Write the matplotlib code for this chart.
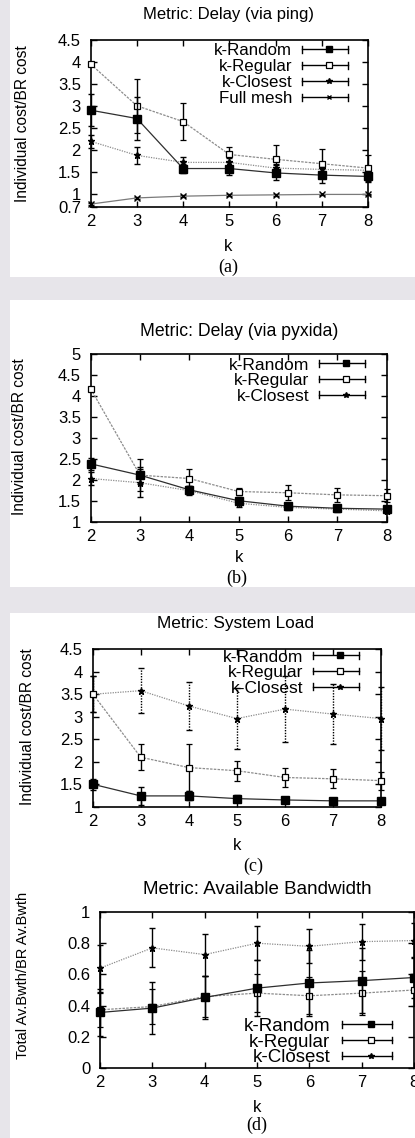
import matplotlib
matplotlib.use('Agg')
import matplotlib.pyplot as plt
from matplotlib.lines import Line2D
from matplotlib.legend_handler import HandlerBase
from matplotlib.patches import Rectangle

W, H, DPI = 415, 1138, 100
plt.rcParams['font.family'] = ['Liberation Sans', 'DejaVu Sans']

# ---------------- data ----------------
K = [2, 3, 4, 5, 6, 7, 8]
LBL_RANDOM, LBL_REGULAR, LBL_CLOSEST, LBL_FULL = 'k-Random', 'k-Regular', 'k-Closest', 'Full mesh'

# (a) Delay via ping
ping_random = [2.90, 2.71, 1.57, 1.57, 1.47, 1.42, 1.39]
ping_random_err = [0.36, 0.49, 0.10, 0.15, 0.17, 0.18, 0.12]
ping_regular = [3.95, 3.00, 2.64, 1.89, 1.78, 1.68, 1.58]
ping_regular_err = [0.05, 0.61, 0.42, 0.17, 0.32, 0.33, 0.30]
ping_closest = [2.19, 1.87, 1.71, 1.71, 1.58, 1.55, 1.53]
ping_closest_err = [0.15, 0.20, 0.12, 0.10, 0.10, 0.10, 0.10]
ping_full = [0.76, 0.90, 0.94, 0.96, 0.97, 0.98, 0.98]
ping_full_err = [0.02, 0.02, 0.02, 0.02, 0.02, 0.02, 0.02]

# (b) Delay via pyxida
pyx_random = [2.38, 2.11, 1.76, 1.50, 1.37, 1.32, 1.30]
pyx_random_err = [0.15, 0.20, 0.10, 0.08, 0.06, 0.06, 0.06]
pyx_regular = [4.17, 2.11, 2.03, 1.72, 1.69, 1.64, 1.62]
pyx_regular_err = [0.05, 0.38, 0.22, 0.08, 0.18, 0.16, 0.15]
pyx_closest = [2.03, 1.93, 1.74, 1.44, 1.34, 1.30, 1.26]
pyx_closest_err = [0.15, 0.33, 0.10, 0.08, 0.07, 0.06, 0.06]

# (c) System load
load_random = [1.50, 1.24, 1.24, 1.18, 1.15, 1.13, 1.13]
load_random_err = [0.12, 0.20, 0.10, 0.07, 0.06, 0.05, 0.05]
load_regular = [3.51, 2.10, 1.87, 1.80, 1.65, 1.62, 1.58]
load_regular_err = [0.40, 0.29, 0.52, 0.22, 0.22, 0.21, 0.20]
load_closest = [3.50, 3.58, 3.24, 2.96, 3.17, 3.06, 2.96]
load_closest_err = [0.40, 0.50, 0.53, 0.68, 0.73, 0.66, 0.70]

# (d) Available bandwidth
bw_random = [0.356, 0.384, 0.452, 0.512, 0.545, 0.56, 0.58]
bw_random_err = [0.15, 0.165, 0.14, 0.18, 0.21, 0.21, 0.13]
bw_regular = [0.373, 0.394, 0.458, 0.48, 0.463, 0.48, 0.50]
bw_regular_err = [0.11, 0.11, 0.13, 0.12, 0.12, 0.14, 0.10]
bw_closest = [0.64, 0.77, 0.727, 0.80, 0.78, 0.81, 0.817]
bw_closest_err = [0.15, 0.125, 0.135, 0.11, 0.11, 0.115, 0.11]

TITLES = ['Metric: Delay (via ping)', 'Metric: Delay (via pyxida)',
          'Metric: System Load', 'Metric: Available Bandwidth']
YLABELS = ['Individual cost/BR cost', 'Individual cost/BR cost',
           'Individual cost/BR cost', 'Total Av.Bwth/BR Av.Bwth']
PANEL_TAGS = ['(a)', '(b)', '(c)', '(d)']

# ---------------- styles ----------------
STY = {
    'random': dict(color='#2e2e2e', ls='-', lw=0.9, marker='s', ms=5.5, mfc='black', mec='black'),
    'regular': dict(color='#8c8c8c', ls=(0, (2, 1)), lw=0.9, marker='s', ms=4.8, mfc='white', mec='black', mew=0.9),
    'closest': dict(color='#8c8c8c', ls=(0, (1, 1)), lw=0.9, marker='*', ms=5.0, mfc='black', mec='black'),
    'full': dict(color='#7a7a7a', ls='-', lw=0.9, marker='x', ms=4, mfc='black', mec='black', mew=1.0),
}


class GnuKey(HandlerBase):
    def create_artists(self, legend, orig_handle, xdescent, ydescent,
                       width, height, fontsize, trans):
        y = height / 2 - ydescent
        x0, x1 = -xdescent, width - xdescent
        c = 2.4
        arts = [Line2D([x0, x1], [y, y], color='black', lw=1.0),
                Line2D([x0, x0], [y - c, y + c], color='black', lw=1.0),
                Line2D([x1, x1], [y - c, y + c], color='black', lw=1.0),
                Line2D([(x0 + x1) * 0.58], [y], ls='none',
                       marker=orig_handle.get_marker(), ms=orig_handle.get_markersize(),
                       mfc=orig_handle.get_markerfacecolor(), mec='black',
                       mew=orig_handle.get_markeredgewidth())]
        for a in arts:
            a.set_transform(trans)
        return arts


fig = plt.figure(figsize=(W / DPI, H / DPI), dpi=DPI, facecolor='#e7e5ea')

for (y0, y1) in [(0, 277), (300, 587), (613, 870), (870, 1138)]:
    fig.add_artist(Rectangle((10 / W, 1 - y1 / H), 405 / W, (y1 - y0) / H,
                             transform=fig.transFigure, facecolor='white',
                             edgecolor='none', zorder=-5))


def px_axes(l, r, t, b):
    return fig.add_axes([l / W, 1 - b / H, (r - l) / W, (b - t) / H])


def series(ax, vals, err, key, elw=1.0, els='-', z=3):
    st = STY[key]
    cont = ax.errorbar(K, vals, yerr=err, color=st['color'], ls=st['ls'], lw=st['lw'],
                       marker=st['marker'], ms=st['ms'], mfc=st['mfc'], mec=st['mec'],
                       mew=st.get('mew', 1.0), ecolor='black', elinewidth=elw,
                       capsize=2.5, capthick=elw, zorder=z)
    line, caps, bars = cont.lines
    line.set_clip_on(False)
    for c in caps:
        c.set_clip_on(False)
    for b in bars:
        b.set_clip_on(False)
        b.set_linestyle(els)
    return Line2D([], [], ls='none', marker=st['marker'], ms=st['ms'] * 0.85,
                  mfc=st['mfc'], mec='black', mew=st.get('mew', 1.0))


def style_axes(ax, yticks, ylim, ylabels=None):
    ax.set_xlim(2, 8)
    ax.set_ylim(*ylim)
    ax.set_xticks(K)
    ax.set_yticks(yticks)
    ax.set_yticklabels(ylabels if ylabels else ['%g' % v for v in yticks])
    ax.tick_params(direction='in', top=True, right=True, length=4, width=1.0,
                   labelsize=12)
    ax.tick_params(axis='x', pad=5)
    ax.tick_params(axis='y', pad=7)
    for s in ax.spines.values():
        s.set_linewidth(1.2)


def legend(ax, handles, labels, fs, right_px, row_px, loc, pitch_px, samp_px=46, gap_px=10):
    em = fs * DPI / 72.0
    box = 0.88 * em
    if loc == 'upper right':
        ay = row_px - box / 2
    else:
        ay = row_px + box / 2
    leg = ax.legend(handles, labels, loc=loc,
                    bbox_to_anchor=(right_px / W, 1 - ay / H),
                    bbox_transform=fig.transFigure, frameon=False, markerfirst=False,
                    fontsize=fs, handlelength=samp_px / em, handletextpad=gap_px / em,
                    labelspacing=(pitch_px - box) / em, borderpad=0, borderaxespad=0,
                    handler_map={Line2D: GnuKey()})
    leg.set_zorder(10)
    return leg


def texts(title, tfs, tpos, ylab, yfs, ypos, kpos, tag, tagpos):
    fig.text(tpos[0] / W, 1 - tpos[1] / H, title, ha='center', va='center', fontsize=tfs)
    fig.text(ypos[0] / W, 1 - ypos[1] / H, ylab, ha='center', va='center',
             rotation=90, fontsize=yfs)
    fig.text(kpos[0] / W, 1 - kpos[1] / H, 'k', ha='center', va='center', fontsize=12)
    fig.text(tagpos[0] / W, 1 - tagpos[1] / H, tag, ha='center', va='center',
             fontsize=13, family='Liberation Serif')


# ---------------- (a) ----------------
ax = px_axes(90.7, 368, 40, 206.7)
h1 = series(ax, ping_random, ping_random_err, 'random', z=5)
h2 = series(ax, ping_regular, ping_regular_err, 'regular', z=4)
h3 = series(ax, ping_closest, ping_closest_err, 'closest', z=3)
h4 = series(ax, ping_full, ping_full_err, 'full', z=3)
style_axes(ax, [0.7, 1, 1.5, 2, 2.5, 3, 3.5, 4, 4.5], (0.7, 4.5))
legend(ax, [h1, h2, h3, h4], [LBL_RANDOM, LBL_REGULAR, LBL_CLOSEST, LBL_FULL],
       12.2, 348, 50.7, 'upper right', 15.9)
texts(TITLES[0], 12, (228.5, 15), YLABELS[0], 11.2, (23, 124), (228.5, 247),
      PANEL_TAGS[0], (228.5, 267))

# ---------------- (b) ----------------
ax = px_axes(90.7, 386.7, 354, 521.7)
h1 = series(ax, pyx_random, pyx_random_err, 'random', z=5)
h2 = series(ax, pyx_regular, pyx_regular_err, 'regular', z=4)
h3 = series(ax, pyx_closest, pyx_closest_err, 'closest', z=3)
style_axes(ax, [1, 1.5, 2, 2.5, 3, 3.5, 4, 4.5, 5], (1, 5))
legend(ax, [h1, h2, h3], [LBL_RANDOM, LBL_REGULAR, LBL_CLOSEST],
       12.6, 365, 365, 'upper right', 15.8)
texts(TITLES[1], 12.7, (239, 331.7), YLABELS[1], 11.2, (20, 437), (239, 558),
      PANEL_TAGS[1], (237, 578))

# ---------------- (c) ----------------
ax = px_axes(92.7, 381, 649.3, 806.7)
h1 = series(ax, load_random, load_random_err, 'random', z=5)
h2 = series(ax, load_regular, load_regular_err, 'regular', z=4)
h3 = series(ax, load_closest, load_closest_err, 'closest', els=(0, (1, 1)), z=3)
style_axes(ax, [1, 1.5, 2, 2.5, 3, 3.5, 4, 4.5], (1, 4.5))
legend(ax, [h1, h2, h3], [LBL_RANDOM, LBL_REGULAR, LBL_CLOSEST],
       12.5, 359, 657, 'upper right', 15.7)
texts(TITLES[2], 12.4, (235, 623.3), YLABELS[2], 11.2, (27, 727), (236.7, 845),
      PANEL_TAGS[2], (253, 866.7))

# ---------------- (d) ----------------
ax = px_axes(100, 414, 912, 1068)
h1 = series(ax, bw_random, bw_random_err, 'random', z=5)
h2 = series(ax, bw_regular, bw_regular_err, 'regular', z=4)
h3 = series(ax, bw_closest, bw_closest_err, 'closest', z=3)
style_axes(ax, [0, 0.2, 0.4, 0.6, 0.8, 1], (0, 1))
legend(ax, [h1, h2, h3], [LBL_RANDOM, LBL_REGULAR, LBL_CLOSEST],
       13.5, 392, 1058, 'lower right', 15.0, samp_px=50, gap_px=12)
texts(TITLES[3], 13.5, (257, 890), YLABELS[3], 10.5, (23, 975), (256.7, 1107),
      PANEL_TAGS[3], (256.7, 1125.7))

fig.savefig('out.png', dpi=DPI, facecolor=fig.get_facecolor())
